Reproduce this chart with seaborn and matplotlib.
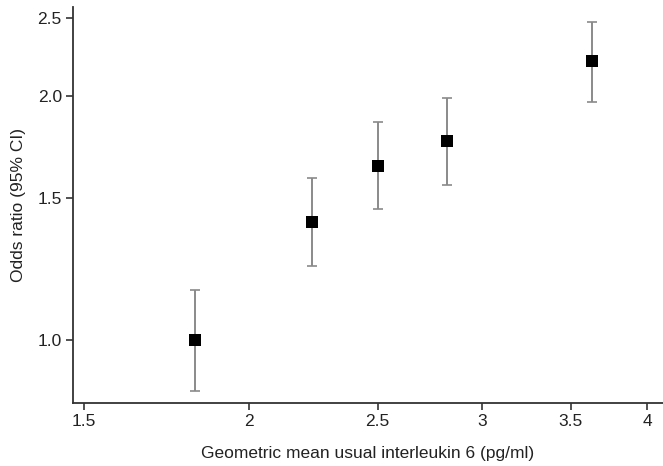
import numpy as np
import pandas as pd
import seaborn as sns
import matplotlib
matplotlib.use("Agg")
import matplotlib.pyplot as plt
from matplotlib.ticker import FixedLocator, FixedFormatter, NullLocator

# values (log-log axes)
il6_mean = [1.82, 2.23, 2.50, 2.82, 3.63]
odds_ratio = [1.00, 1.40, 1.64, 1.76, 2.21]
ci_low = [0.866, 1.236, 1.451, 1.554, 1.968]
ci_high = [1.153, 1.585, 1.859, 1.989, 2.474]

x_ticks = [1.5, 2, 2.5, 3, 3.5, 4]
x_ticklabels = ["1.5", "2", "2.5", "3", "3.5", "4"]
y_ticks = [1.0, 1.5, 2.0, 2.5]
y_ticklabels = ["1.0", "1.5", "2.0", "2.5"]

df = pd.DataFrame({"il6": il6_mean, "or": odds_ratio, "lo": ci_low, "hi": ci_high})

sns.set_style("ticks")
plt.rcParams['font.family'] = ['Liberation Sans', 'DejaVu Sans']

fig = plt.figure(figsize=(6.63, 4.66), dpi=100)
ax = fig.add_axes([0.110, 0.135, 0.890, 0.850])

ax.set_xscale("log")
ax.set_yscale("log")

yerr = np.vstack([df["or"] - df["lo"], df["hi"] - df["or"]])
ax.errorbar(df["il6"], df["or"], yerr=yerr, fmt="none", ecolor="#8a8a8a",
            elinewidth=1.4, capsize=3.6, capthick=1.2, zorder=1)
sns.scatterplot(data=df, x="il6", y="or", marker="s", s=70, color="black",
                edgecolor="black", linewidth=0, ax=ax, zorder=2)

ax.set_xlim(1.471, 4.11)
ax.set_ylim(0.836, 2.58)

ax.xaxis.set_major_locator(FixedLocator(x_ticks))
ax.xaxis.set_major_formatter(FixedFormatter(x_ticklabels))
ax.xaxis.set_minor_locator(NullLocator())
ax.yaxis.set_major_locator(FixedLocator(y_ticks))
ax.yaxis.set_major_formatter(FixedFormatter(y_ticklabels))
ax.yaxis.set_minor_locator(NullLocator())

ax.tick_params(axis="both", direction="out", length=5, width=1.2,
               color="#333333", labelsize=12.5, labelcolor="#222222", pad=3)

ax.set_xlabel("Geometric mean usual interleukin 6 (pg/ml)", fontsize=12.5,
              color="#222222", labelpad=12)
ax.set_ylabel("Odds ratio (95% CI)", fontsize=12.5, color="#222222", labelpad=8)

sns.despine(ax=ax)
for side in ["left", "bottom"]:
    ax.spines[side].set_color("#333333")
    ax.spines[side].set_linewidth(1.3)

fig.savefig("out.png", dpi=100)
